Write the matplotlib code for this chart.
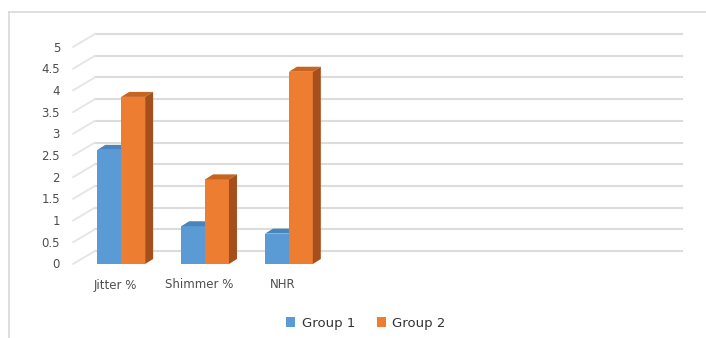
"""
Voice measures by group: pseudo-3D clustered columns in an office-chart style.
"""

import matplotlib.pyplot as plt
from matplotlib.patches import Polygon, Rectangle
from matplotlib.lines import Line2D

categories = ["Jitter %", "Shimmer %", "NHR", "", "", "", ""]
group1 = [2.63, 0.87, 0.70]
group2 = [3.85, 1.95, 4.43]
series_names = ["Group 1", "Group 2"]
yticks = [0, 0.5, 1, 1.5, 2, 2.5, 3, 3.5, 4, 4.5, 5]
yticklabels = ["0", "0.5", "1", "1.5", "2", "2.5", "3", "3.5", "4", "4.5", "5"]

W, H = 706, 338
TEXT = "#4d4d4d"
GRID = "#dcdcdc"
# front / top / side shades for each series
SHADES = [
    ("#5b9bd5", "#4a84bb", "#41719c"),
    ("#ed7d31", "#c5651f", "#a5501c"),
]

BACK = (22, 13)       # depth offset of the back wall, px
BAR_DEPTH = (8, 5)    # depth offset of a column, px
BAR_W = 0.285
BAR_LEFT = -0.21

fig = plt.figure(figsize=(W / 100, H / 100), dpi=100)
ax = fig.add_axes([73 / W, (H - 264) / H, 587 / W, 217 / H])
ax.set_xlim(-0.5, len(categories) - 0.5)
ax.set_ylim(0, 5)
ax.axis("off")

to_disp = ax.transData.transform
to_data = ax.transData.inverted().transform


def shifted(x, y, dx, dy):
    px, py = to_disp((x, y))
    return tuple(to_data((px + dx, py + dy)))


x_left, x_right = ax.get_xlim()

# back wall gridlines plus the diagonal side-wall segments
for v in yticks:
    bx0 = shifted(x_left, v, *BACK)
    bx1 = shifted(x_right, v, *BACK)
    ax.add_line(Line2D([bx0[0], bx1[0]], [bx0[1], bx1[1]], color=GRID,
                       lw=1.5, zorder=1, clip_on=False))
    ax.add_line(Line2D([x_left, bx0[0]], [v, bx0[1]], color="#e6e6e6",
                       lw=1.4, zorder=1, clip_on=False, solid_capstyle="round"))

for v, lab in zip(yticks, yticklabels):
    px, py = to_disp((x_left, v))
    tx, ty = to_data((px - 13, py - 1))
    ax.text(tx, ty, lab, ha="right", va="center", fontsize=8.5,
            color=TEXT, clip_on=False)


def column(x0, value, shades, z):
    x1 = x0 + BAR_W
    front, top, side = shades
    ax.add_patch(Rectangle((x0, 0), BAR_W, value, facecolor=front,
                           edgecolor="none", zorder=z))
    ax.add_patch(Polygon([(x0, value), (x1, value),
                          shifted(x1, value, *BAR_DEPTH),
                          shifted(x0, value, *BAR_DEPTH)],
                         closed=True, facecolor=top, edgecolor="none", zorder=z))
    ax.add_patch(Polygon([(x1, 0), (x1, value),
                          shifted(x1, value, *BAR_DEPTH),
                          shifted(x1, 0, *BAR_DEPTH)],
                         closed=True, facecolor=side, edgecolor="none", zorder=z))


for i in range(len(group1)):
    column(i + BAR_LEFT, group1[i], SHADES[0], 3 + 2 * i)
    column(i + BAR_LEFT + BAR_W, group2[i], SHADES[1], 4 + 2 * i)

for i, name in enumerate(categories):
    if name:
        px, py = to_disp((i, 0))
        tx, ty = to_data((px, py - 21))
        ax.text(tx, ty, name, ha="center", va="center", fontsize=8.5,
                color=TEXT, clip_on=False)

handles = [Rectangle((0, 0), 1, 1, facecolor=s[0], edgecolor="none")
           for s in SHADES]
fig.legend(handles, series_names, loc="center", ncol=2,
           bbox_to_anchor=(366 / W, (H - 323) / H), frameon=False,
           fontsize=9.5, handlelength=0.7, handleheight=0.7,
           handletextpad=0.5, columnspacing=1.6, labelcolor="#333333")

# outer chart border: top and left edges only
top_y = (H - 12) / H
fig.add_artist(Line2D([9 / W, 1.0], [top_y, top_y], transform=fig.transFigure,
                      color="#d9d9d9", lw=1.2))
fig.add_artist(Line2D([9 / W, 9 / W], [0, top_y], transform=fig.transFigure,
                      color="#d9d9d9", lw=1.2))

fig.savefig("out.png", dpi=100)
